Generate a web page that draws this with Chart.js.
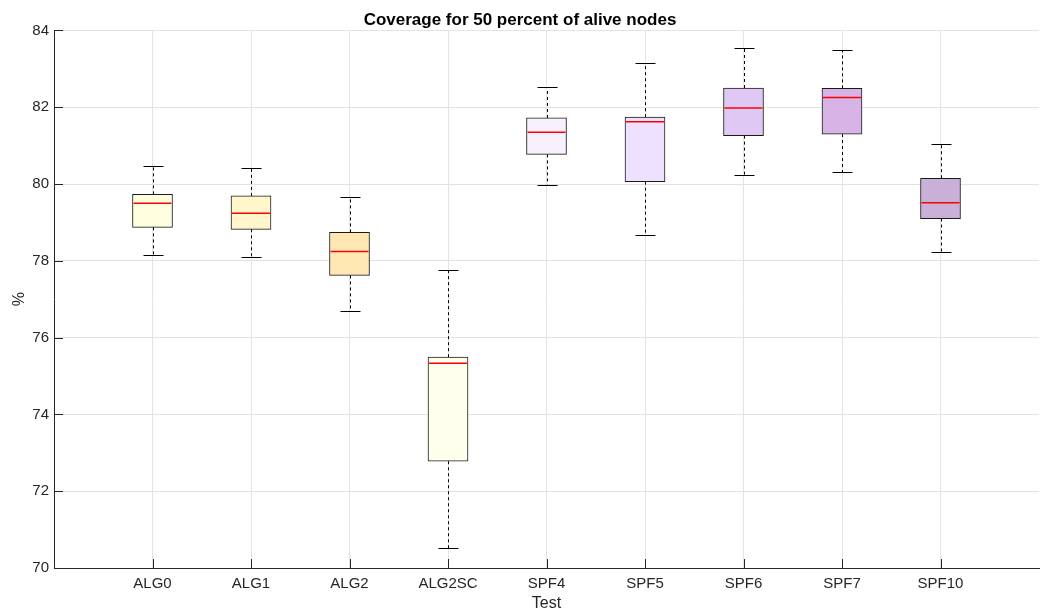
<!DOCTYPE html>
<html>
<head>
<meta charset="utf-8">
<title>Coverage boxplot</title>
<script src="https://cdn.jsdelivr.net/npm/chart.js@4/dist/chart.umd.min.js"></script>
<style>
  html, body { margin: 0; padding: 0; background: #fff; }
  #wrap { width: 1046px; height: 613px; }
</style>
</head>
<body>
<div id="wrap"><canvas id="boxChart"></canvas></div>
<script>
// Test cases on the x axis
const tests = ['ALG0', 'ALG1', 'ALG2', 'ALG2SC', 'SPF4', 'SPF5', 'SPF6', 'SPF7', 'SPF10'];

// Box statistics per test (coverage %)
const whiskerLow  = [78.15, 78.10, 76.69, 70.51, 79.98, 78.66, 80.23, 80.30, 78.23];
const quart1      = [78.87, 78.82, 77.62, 72.78, 80.77, 80.06, 81.26, 81.30, 79.10];
const medians     = [79.50, 79.24, 78.24, 75.33, 81.35, 81.62, 81.98, 82.25, 79.51];
const quart3      = [79.73, 79.69, 78.74, 75.49, 81.72, 81.74, 82.50, 82.49, 80.15];
const whiskerHigh = [80.46, 80.42, 79.67, 77.76, 82.52, 83.14, 83.54, 83.49, 81.03];

const yTicks = [70, 72, 74, 76, 78, 80, 82, 84];

const boxColors = ['#ffffe0', '#fff6cc', '#ffe8b4', '#ffffee', '#f8f0fc',
                   '#eee0ff', '#e0c8f4', '#d8b4e6', '#c8b0d8'];

const axisColor = '#262626';
const gridColor = '#e3e3e3';
const font = 'Liberation Sans, Arial, Helvetica, sans-serif';

// whiskers under the boxes, medians and inward ticks on top
const boxExtras = {
    id: 'boxExtras',
    beforeDatasetsDraw(chart) {
        const { ctx, scales: { x, y } } = chart;
        ctx.save();
        ctx.strokeStyle = '#000';
        ctx.lineWidth = 1;
        tests.forEach((t, i) => {
            const px = Math.round(x.getPixelForValue(i + 1)) + 0.5;
            ctx.setLineDash([3, 3]);
            ctx.beginPath();
            ctx.moveTo(px, y.getPixelForValue(quart3[i]));
            ctx.lineTo(px, y.getPixelForValue(whiskerHigh[i]));
            ctx.moveTo(px, y.getPixelForValue(quart1[i]));
            ctx.lineTo(px, y.getPixelForValue(whiskerLow[i]));
            ctx.stroke();
            ctx.setLineDash([]);
            ctx.beginPath();
            const hi = Math.round(y.getPixelForValue(whiskerHigh[i])) + 0.5;
            const lo = Math.round(y.getPixelForValue(whiskerLow[i])) + 0.5;
            ctx.moveTo(px - 10, hi); ctx.lineTo(px + 10, hi);
            ctx.moveTo(px - 10, lo); ctx.lineTo(px + 10, lo);
            ctx.stroke();
        });
        ctx.restore();
    },
    afterDatasetsDraw(chart) {
        const { ctx, chartArea, scales: { x, y } } = chart;
        ctx.save();
        ctx.strokeStyle = '#ff0000';
        ctx.lineWidth = 1.5;
        tests.forEach((t, i) => {
            const px = x.getPixelForValue(i + 1);
            const my = y.getPixelForValue(medians[i]);
            ctx.beginPath();
            ctx.moveTo(px - 19, my);
            ctx.lineTo(px + 19, my);
            ctx.stroke();
        });
        // inward tick marks
        ctx.strokeStyle = axisColor;
        ctx.lineWidth = 1;
        ctx.beginPath();
        tests.forEach((t, i) => {
            const px = Math.round(x.getPixelForValue(i + 1)) + 0.5;
            ctx.moveTo(px, chartArea.bottom);
            ctx.lineTo(px, chartArea.bottom - 9);
        });
        yTicks.forEach(v => {
            const py = Math.round(y.getPixelForValue(v)) + 0.5;
            ctx.moveTo(chartArea.left, py);
            ctx.lineTo(chartArea.left + 9, py);
        });
        ctx.stroke();
        ctx.restore();
    }
};

const ctx = document.getElementById('boxChart').getContext('2d');

const boxChart = new Chart(ctx, {
    type: 'bar',
    data: {
        datasets: [{
            data: tests.map((t, i) => ({ x: i + 1, y: [quart1[i], quart3[i]] })),
            backgroundColor: boxColors,
            borderColor: '#1a1a1a',
            borderWidth: 1,
            borderSkipped: false,
            barThickness: 40
        }]
    },
    options: {
        responsive: true,
        maintainAspectRatio: false,
        animation: false,
        layout: { padding: { top: 0, right: 6, bottom: 0, left: 0 } },
        plugins: {
            legend: { display: false },
            tooltip: { enabled: false },
            title: {
                display: true,
                text: 'Coverage for 50 percent of alive nodes',
                color: '#000',
                font: { family: font, size: 17, weight: 'bold' },
                padding: { top: 10, bottom: 0 }
            }
        },
        scales: {
            x: {
                type: 'linear',
                min: 0,
                max: 10,
                offset: false,
                afterFit: (scale) => { scale.height = 45; },
                afterBuildTicks: (scale) => {
                    scale.ticks = [0, 1, 2, 3, 4, 5, 6, 7, 8, 9, 10].map(v => ({ value: v }));
                },
                ticks: {
                    color: axisColor,
                    font: { family: font, size: 15 },
                    padding: 7,
                    maxRotation: 0,
                    autoSkip: false,
                    callback: (v) => tests[v - 1] || ''
                },
                grid: {
                    offset: false,
                    color: (c) => (c.tick && (c.tick.value === 0 || c.tick.value === 10)) ? 'rgba(0,0,0,0)' : gridColor,
                    drawTicks: false
                },
                border: { display: true, color: axisColor },
                title: {
                    display: true,
                    text: 'Test',
                    color: axisColor,
                    font: { family: font, size: 16 },
                    padding: { top: 0, bottom: 0 }
                }
            },
            y: {
                min: 70,
                max: 84,
                afterFit: (scale) => { scale.width = 54; },
                afterBuildTicks: (scale) => {
                    scale.ticks = yTicks.map(v => ({ value: v }));
                },
                ticks: {
                    color: axisColor,
                    font: { family: font, size: 15 },
                    padding: 5
                },
                grid: { color: gridColor, drawTicks: false },
                border: { display: true, color: axisColor },
                title: {
                    display: true,
                    text: '%',
                    color: axisColor,
                    font: { family: font, size: 16 },
                    padding: { top: 10, bottom: 0 }
                }
            }
        }
    },
    plugins: [boxExtras]
});
</script>
</body>
</html>
